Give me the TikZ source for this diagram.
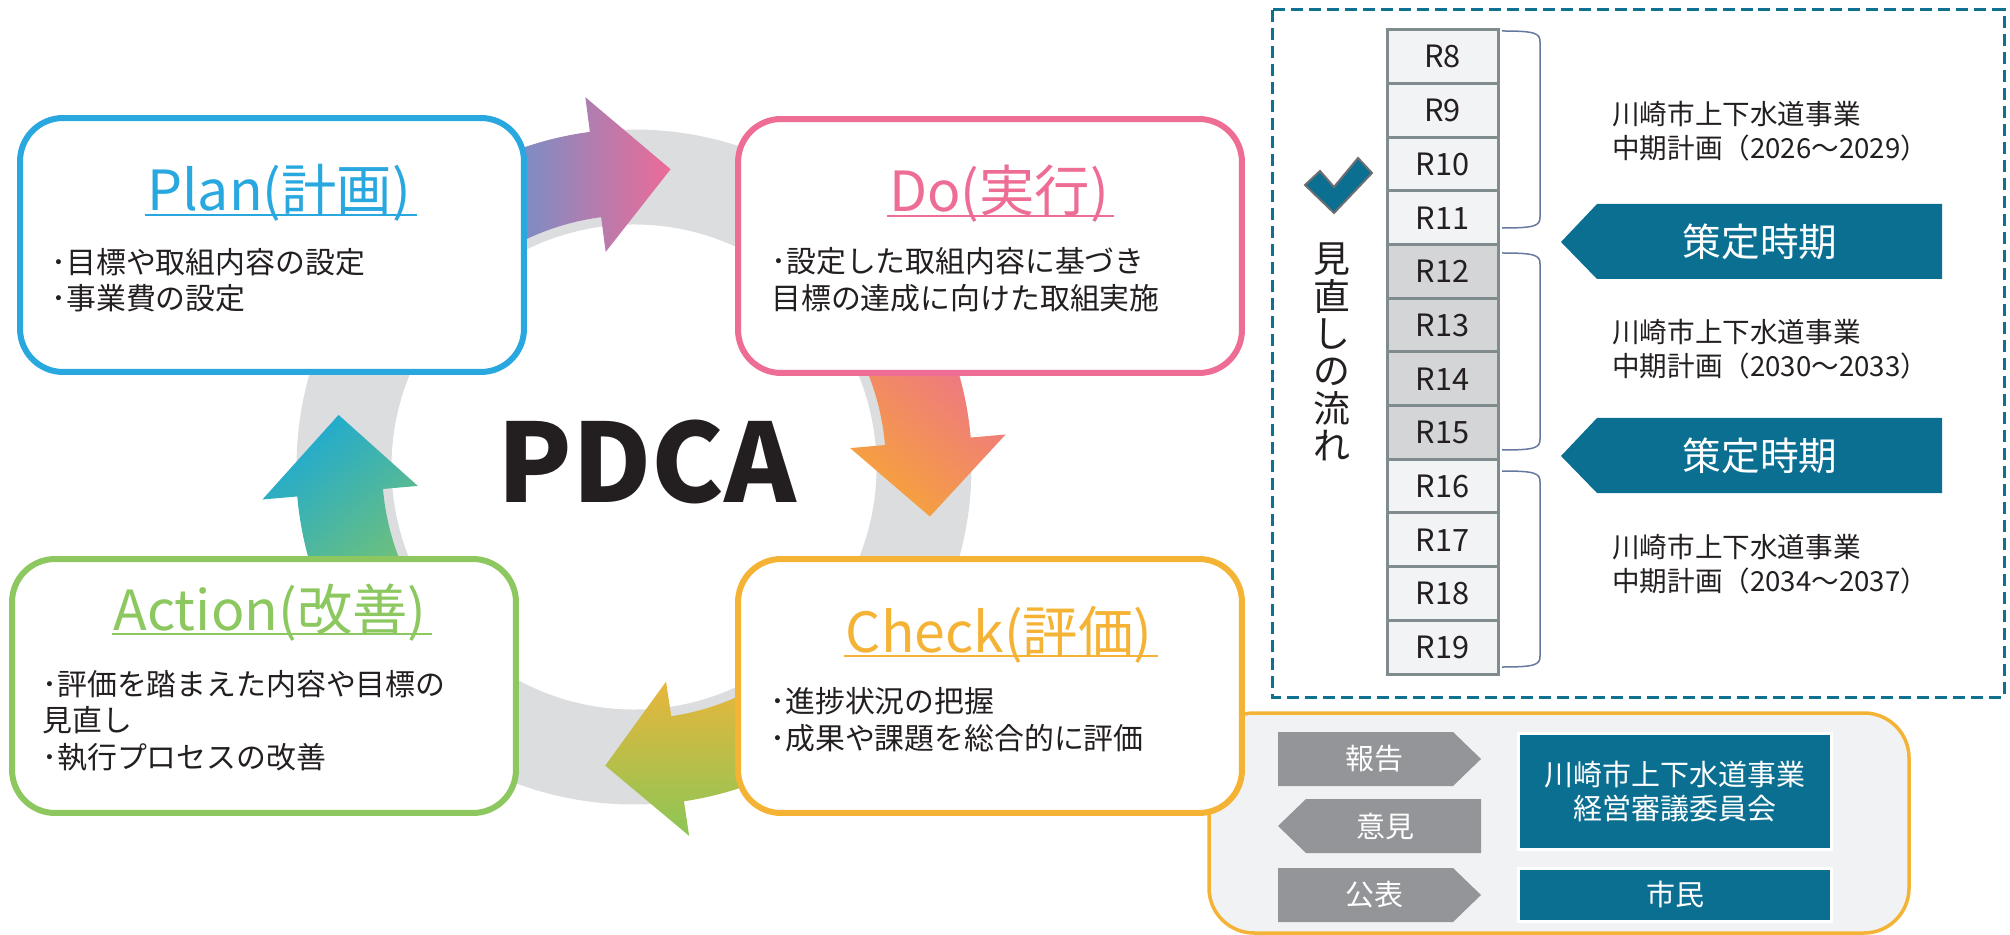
\documentclass[tikz,border=0pt]{standalone}
\usepackage{fontspec}
\setmainfont{Noto Sans CJK JP}

\definecolor{plancol}{HTML}{29A8E0}
\definecolor{docol}{HTML}{EE6D95}
\definecolor{checkcol}{HTML}{F5B335}
\definecolor{actcol}{HTML}{8CC85F}
\definecolor{inkcol}{HTML}{231F20}
\definecolor{ringcol}{HTML}{DCDDDF}
\definecolor{tealcol}{HTML}{0A6F91}
\definecolor{dashcol}{HTML}{10708F}
\definecolor{greycol}{HTML}{949598}
\definecolor{panelcol}{HTML}{F1F2F4}
\definecolor{celllight}{HTML}{F2F3F5}
\definecolor{celldark}{HTML}{D3D5D6}
\definecolor{cellline}{HTML}{7F8B8C}
\definecolor{bracecol}{HTML}{6478A0}
\definecolor{markgrey}{HTML}{6D6E71}
\definecolor{arrblue}{HTML}{3FA0DC}
\definecolor{arrpink}{HTML}{EC6B98}
\definecolor{arrorange}{HTML}{F6A23C}
\definecolor{arryellow}{HTML}{EDB53A}
\definecolor{arrgreen}{HTML}{8CC656}
\definecolor{arrteal}{HTML}{1FAAD1}
\definecolor{arrlgreen}{HTML}{7EC56A}

\begin{document}
\begin{tikzpicture}[x=0.02cm, y=-0.02cm,
  box/.style={draw, line width=0.12cm, fill=white, rounded corners=0.86cm, minimum width=10.08cm, minimum height=5.08cm},
  heading/.style={font=\fontsize{31.5}{36}\selectfont, inner sep=0pt, anchor=base},
  bullets/.style={font=\fontsize{17}{20.8}\selectfont, text=inkcol, align=left, anchor=west, inner sep=0pt},
  year/.style={draw=cellline, line width=0.06cm, minimum width=2.22cm, minimum height=1.073cm, inner sep=0pt, font=\fontsize{17.5}{20}\selectfont, text=inkcol},
  plantext/.style={font=\fontsize{15.7}{19.3}\selectfont, text=inkcol, align=left, anchor=west, inner sep=0pt},
  tag/.style={text=white, inner sep=0pt, font=\fontsize{16.5}{19.3}\selectfont},
  panelbox/.style={fill=tealcol, draw=white, line width=0.06cm, minimum width=6.28cm, text=white, align=center, font=\fontsize{16.5}{19.3}\selectfont}]
\useasboundingbox (0,0) rectangle (2010,935);

\draw[ringcol, line width=1.9cm] (634,467) circle[radius=290];
\begin{scope}[shift={(634,467)}]
\shade[left color=arrblue, right color=arrpink] (-125:338) arc[start angle=-125, end angle=-97.5, radius=338] -- (-97.5:373) -- (-83:300) -- (-97.5:217) -- (-97.5:252) arc[start angle=-97.5, end angle=-125, radius=252] -- cycle;
\shade[top color=arrpink, bottom color=arrorange, shading angle=-40] (-30:338) arc[start angle=-30, end angle=-5, radius=338] -- (-5:373) -- (9.5:300) -- (-5:217) -- (-5:252) arc[start angle=-5, end angle=-30, radius=252] -- cycle;
\shade[top color=arryellow, bottom color=arrgreen] (55:338) arc[start angle=55, end angle=81.5, radius=338] -- (81.5:373) -- (95.5:300) -- (81.5:217) -- (81.5:252) arc[start angle=81.5, end angle=55, radius=252] -- cycle;
\shade[top color=arrteal, bottom color=arrlgreen, shading angle=40] (150:338) arc[start angle=150, end angle=175, radius=338] -- (175:373) -- (190:300) -- (175:217) -- (175:252) arc[start angle=175, end angle=150, radius=252] -- cycle;
\end{scope}

\draw[checkcol, line width=0.07cm, fill=panelcol, rounded corners=0.9cm] (1209,713) rectangle (1909,933);

\path (272,245) node[box, draw=plancol] (plan) {};
\path (990,246) node[box, draw=docol] (do) {};
\path (990,686) node[box, draw=checkcol] (check) {};
\path (264,686) node[box, draw=actcol] (action) {};

\path (279,211) node[heading, text=plancol] (plantitle) {Plan(計画)};
\draw[plancol, line width=1.5pt] ([xshift=-1pt,yshift=-2.3pt]plantitle.base west) -- ([xshift=3pt,yshift=-2.3pt]plantitle.base east);
\path (51,280) node[bullets] (planlist) {･目標や取組内容の設定\\･事業費の設定};

\path (999,212) node[heading, text=docol] (dotitle) {Do(実行)};
\draw[docol, line width=1.5pt] ([xshift=-1pt,yshift=-2.3pt]dotitle.base west) -- ([xshift=3pt,yshift=-2.3pt]dotitle.base east);
\path (771,280) node[bullets] (dolist) {･設定した取組内容に基づき\\目標の達成に向けた取組実施};

\path (999,652) node[heading, text=checkcol] (checktitle) {Check(評価)};
\draw[checkcol, line width=1.5pt] ([xshift=-1pt,yshift=-2.3pt]checktitle.base west) -- ([xshift=3pt,yshift=-2.3pt]checktitle.base east);
\path (770,720) node[bullets] (checklist) {･進捗状況の把握\\･成果や課題を総合的に評価};

\path (270,630) node[heading, text=actcol] (acttitle) {Action(改善)};
\draw[actcol, line width=1.5pt] ([xshift=-1pt,yshift=-2.3pt]acttitle.base west) -- ([xshift=3pt,yshift=-2.3pt]acttitle.base east);
\path (42,720.5) node[bullets] (actlist) {･評価を踏まえた内容や目標の\\見直し\\･執行プロセスの改善};

\path (647,502) node[anchor=base, inner sep=0pt, font=\bfseries\fontsize{62}{70}\selectfont, text=inkcol] (pdca) {PDCA};

\draw[dashcol, line width=0.06cm, dash pattern=on 0.24cm off 0.12cm] (1272,10) rectangle (2004,697);

\path (1442.5,56.8) node[year, fill=celllight] (r8) {R8};
\path (1442.5,110.5) node[year, fill=celllight] (r9) {R9};
\path (1442.5,164.2) node[year, fill=celllight] (r10) {R10};
\path (1442.5,217.8) node[year, fill=celllight] (r11) {R11};
\path (1442.5,271.5) node[year, fill=celldark] (r12) {R12};
\path (1442.5,325.2) node[year, fill=celldark] (r13) {R13};
\path (1442.5,378.8) node[year, fill=celldark] (r14) {R14};
\path (1442.5,432.5) node[year, fill=celldark] (r15) {R15};
\path (1442.5,486.2) node[year, fill=celllight] (r16) {R16};
\path (1442.5,539.8) node[year, fill=celllight] (r17) {R17};
\path (1442.5,593.5) node[year, fill=celllight] (r18) {R18};
\path (1442.5,647.2) node[year, fill=celllight] (r19) {R19};

\draw[bracecol, line width=0.03cm] (1502,31) .. controls (1535,31) and (1540,33) .. (1540,42) -- (1540,217) .. controls (1540,226) and (1535,228) .. (1502,228);
\draw[bracecol, line width=0.03cm] (1502,253) .. controls (1535,253) and (1540,255) .. (1540,264) -- (1540,439) .. controls (1540,448) and (1535,450) .. (1502,450);
\draw[bracecol, line width=0.03cm] (1502,471) .. controls (1535,471) and (1540,473) .. (1540,482) -- (1540,656) .. controls (1540,665) and (1535,667) .. (1502,667);

\path (1612,131.5) node[plantext] (term1) {川崎市上下水道事業\\中期計画（2026～2029）};
\path (1612,349.5) node[plantext] (term2) {川崎市上下水道事業\\中期計画（2030～2033）};
\path (1612,564.5) node[plantext] (term3) {川崎市上下水道事業\\中期計画（2034～2037）};

\filldraw[fill=tealcol, draw=markgrey, line width=0.04cm] (1305,185) -- (1320,171) -- (1334,187) -- (1358,158) -- (1372,173) -- (1334,213) -- cycle;
\path (1332,352) node[font=\fontsize{21}{21.3}\selectfont, text=inkcol, align=center, inner sep=0pt] (review) {見\\直\\し\\の\\流\\れ};

\fill[tealcol] (1561,242) -- (1597,204) -- (1942,204) -- (1942,279) -- (1597,279) -- cycle;
\path (1760,242) node[tag, font=\fontsize{22}{26}\selectfont] (draft1) {策定時期};
\fill[tealcol] (1561,456) -- (1597,418) -- (1942,418) -- (1942,493) -- (1597,493) -- cycle;
\path (1760,456) node[tag, font=\fontsize{22}{26}\selectfont] (draft2) {策定時期};

\fill[greycol] (1278,732) -- (1453,732) -- (1481,759) -- (1453,786) -- (1278,786) -- cycle;
\path (1374,759) node[tag] (report) {報告};
\fill[greycol] (1278,826) -- (1306,799) -- (1481,799) -- (1481,853) -- (1306,853) -- cycle;
\path (1385,826) node[tag] (opinion) {意見};
\fill[greycol] (1278,868) -- (1453,868) -- (1481,895) -- (1453,922) -- (1278,922) -- cycle;
\path (1374,895) node[tag] (publish) {公表};

\path (1675,791.5) node[panelbox, minimum height=2.34cm] (council) {川崎市上下水道事業\\経営審議委員会};
\path (1675,894.5) node[panelbox, minimum height=1.06cm] (citizens) {市民};
\end{tikzpicture}
\end{document}
